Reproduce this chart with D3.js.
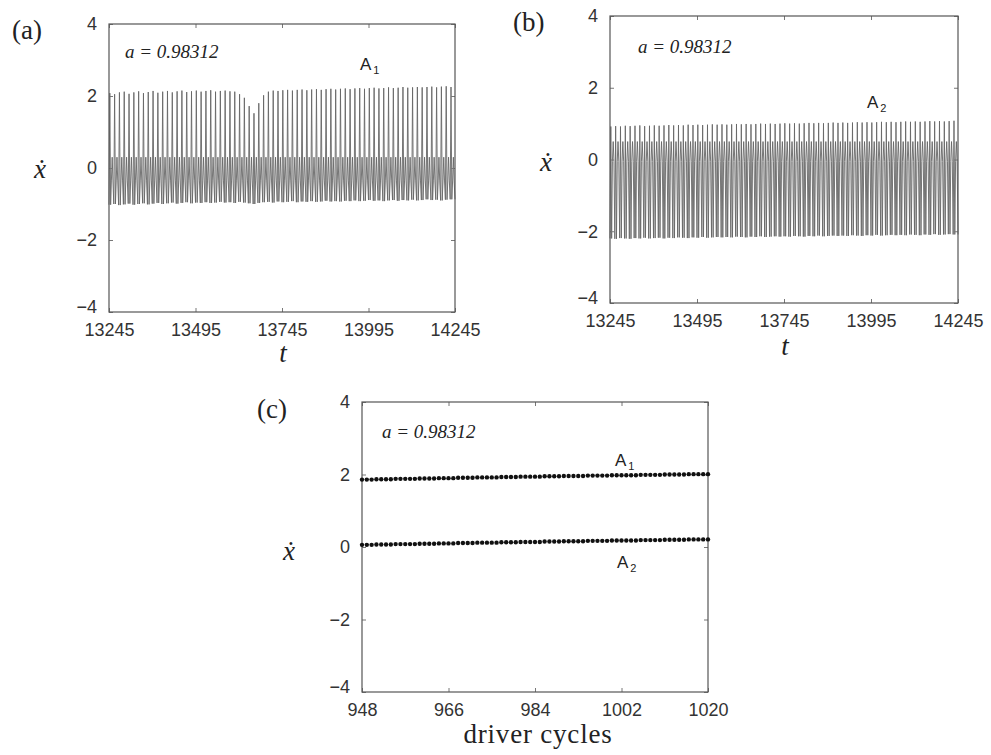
<!DOCTYPE html>
<html>
<head>
<meta charset="utf-8">
<script src="https://d3js.org/d3.v7.min.js"></script>
<style>
body { margin: 0; background: #fff; }
svg { display: block; }
.tick text { font-family: "Liberation Sans", Arial, sans-serif; font-size: 18px; fill: #333; }
.tick line { stroke: #777; }
.serif { font-family: "Liberation Serif", "DejaVu Serif", serif; fill: #222; }
.sans { font-family: "Liberation Sans", Arial, sans-serif; fill: #222; }
</style>
</head>
<body>
<svg id="chart" width="991" height="755"></svg>
<script>
//axis ticks
var yTicks = [-4, -2, 0, 2, 4];
var tTicks = [13245, 13495, 13745, 13995, 14245];
var cycleTicks = [948, 966, 984, 1002, 1020];
var paramLabel = 'a = 0.98312';

//driver cycles shown in (c), one strobe point per cycle
var cycles = d3.range(948, 1021);

//panel (a): top and bottom of each cycle of the A1 time series
var peaksA = [
  2.08,2.05,2.10,2.12,2.06,2.10,2.13,2.08,2.11,2.14,2.09,2.12,
  2.14,2.10,2.13,2.15,2.11,2.13,2.15,2.12,2.14,2.16,2.12,2.14,
  2.15,2.13,2.12,2.05,1.95,1.72,1.52,1.80,2.02,2.12,2.15,2.14,
  2.16,2.17,2.15,2.17,2.18,2.16,2.18,2.19,2.17,2.19,2.20,2.18,
  2.20,2.21,2.19,2.21,2.22,2.20,2.22,2.23,2.21,2.22,2.24,2.22,
  2.23,2.25,2.23,2.24,2.25,2.24,2.25,2.26,2.24,2.26,2.27,2.25
];
var troughsA = [
  -1.02,-1.00,-1.03,-1.01,-0.99,-1.02,-1.00,-0.98,-1.01,-0.99,-0.97,-1.00,
  -0.98,-0.96,-0.99,-0.97,-0.95,-0.98,-0.96,-0.97,-0.95,-0.97,-0.96,-0.94,
  -0.96,-0.95,-0.97,-0.94,-0.96,-0.98,-1.00,-0.97,-0.95,-0.94,-0.96,-0.93,
  -0.95,-0.94,-0.92,-0.95,-0.93,-0.94,-0.92,-0.94,-0.93,-0.91,-0.93,-0.92,
  -0.93,-0.91,-0.92,-0.90,-0.92,-0.91,-0.89,-0.91,-0.90,-0.92,-0.90,-0.89,
  -0.91,-0.89,-0.90,-0.88,-0.90,-0.89,-0.87,-0.89,-0.88,-0.90,-0.88,-0.87
];
var bandA = [-0.36, 0.30];

//panel (b): same for A2
var peaksB = [
  0.92,0.93,0.92,0.94,0.93,0.94,0.95,0.93,0.94,0.95,0.94,0.95,
  0.96,0.95,0.96,0.95,0.97,0.96,0.97,0.96,0.97,0.98,0.97,0.98,
  0.97,0.98,0.99,0.98,0.99,0.98,0.99,1.00,0.99,1.00,0.99,1.00,
  1.01,1.00,1.01,1.00,1.01,1.02,1.01,1.02,1.01,1.02,1.03,1.02,
  1.03,1.02,1.03,1.04,1.03,1.04,1.03,1.04,1.05,1.04,1.05,1.04,
  1.05,1.06,1.05,1.06,1.05,1.06,1.07,1.06,1.07,1.06,1.07,1.08
];
var troughsB = [
  -2.20,-2.21,-2.19,-2.20,-2.21,-2.19,-2.20,-2.18,-2.20,-2.19,-2.18,-2.20,
  -2.18,-2.19,-2.17,-2.18,-2.19,-2.17,-2.18,-2.16,-2.18,-2.17,-2.16,-2.17,
  -2.16,-2.17,-2.15,-2.16,-2.17,-2.15,-2.16,-2.14,-2.16,-2.15,-2.14,-2.15,
  -2.14,-2.15,-2.13,-2.14,-2.15,-2.13,-2.14,-2.12,-2.14,-2.13,-2.12,-2.13,
  -2.12,-2.13,-2.11,-2.12,-2.13,-2.11,-2.12,-2.10,-2.12,-2.11,-2.10,-2.11,
  -2.10,-2.11,-2.09,-2.10,-2.11,-2.09,-2.10,-2.08,-2.10,-2.09,-2.08,-2.09
];
var bandB = [-0.05, 0.50];

//panel (c): strobed velocity once per driver cycle
var strobeA1 = [
  1.86,1.86,1.86,1.87,1.87,1.87,1.87,1.88,1.88,1.88,1.88,1.88,1.89,1.89,1.89,1.89,
  1.90,1.90,1.90,1.90,1.91,1.91,1.91,1.91,1.92,1.92,1.92,1.92,1.92,1.93,1.93,1.93,
  1.93,1.94,1.94,1.94,1.94,1.94,1.95,1.95,1.95,1.95,1.96,1.96,1.96,1.96,1.96,1.97,
  1.97,1.97,1.97,1.97,1.98,1.98,1.98,1.98,1.98,1.98,1.99,1.99,1.99,1.99,1.99,2.00,
  2.00,2.00,2.00,2.00,2.01,2.01,2.01,2.01,2.01
];
var strobeA2 = [
  0.06,0.06,0.06,0.07,0.07,0.07,0.07,0.08,0.08,0.08,0.08,0.08,0.09,0.09,0.09,0.09,
  0.10,0.10,0.10,0.10,0.11,0.11,0.11,0.11,0.12,0.12,0.12,0.12,0.12,0.13,0.13,0.13,
  0.13,0.14,0.14,0.14,0.14,0.14,0.15,0.15,0.15,0.15,0.16,0.16,0.16,0.16,0.16,0.17,
  0.17,0.17,0.17,0.17,0.18,0.18,0.18,0.18,0.18,0.18,0.19,0.19,0.19,0.19,0.19,0.20,
  0.20,0.20,0.20,0.20,0.21,0.21,0.21,0.21,0.21
];

var svg = d3.select('#chart');

function makePanel(box, xDomain, xTicks) {
  var x = d3.scaleLinear().domain(xDomain).range([box.left, box.right]);
  var y = d3.scaleLinear().domain([-4, 4]).range([box.bottom, box.top]);
  var g = svg.append('g');

  //ticks point inwards, labels only on bottom and left
  g.append('g')
    .attr('transform', 'translate(0,' + box.bottom + ')')
    .call(d3.axisBottom(x).tickValues(xTicks).tickSizeInner(-4).tickSizeOuter(0).tickPadding(11).tickFormat(d3.format('d')));
  var left = g.append('g')
    .attr('transform', 'translate(' + box.left + ',0)')
    .call(d3.axisLeft(y).tickValues(yTicks).tickSizeInner(-4).tickSizeOuter(0).tickPadding(12));
  //the -4 label sits a little high, like the original
  left.selectAll('.tick text').filter(function (d) { return d === -4; }).attr('y', -5);
  g.append('g')
    .attr('transform', 'translate(0,' + box.top + ')')
    .call(d3.axisTop(x).tickValues(xTicks).tickSizeInner(-4).tickSizeOuter(0).tickFormat(''));
  g.append('g')
    .attr('transform', 'translate(' + box.right + ',0)')
    .call(d3.axisRight(y).tickValues(yTicks).tickSizeInner(-4).tickSizeOuter(0).tickFormat(''));
  g.selectAll('.domain').remove();

  g.append('rect')
    .attr('x', box.left).attr('y', box.top)
    .attr('width', box.right - box.left).attr('height', box.bottom - box.top)
    .attr('fill', 'none').attr('stroke', '#555').attr('stroke-width', 1.2);

  return {x: x, y: y, g: g};
}

//one spike per driver cycle, with a small wiggle near zero
function cyclePoints(peaks, troughs, band) {
  var period = (tTicks[tTicks.length - 1] - tTicks[0]) / peaks.length;
  var pts = [];
  peaks.forEach(function (p, i) {
    var t0 = tTicks[0] + i * period;
    pts.push([t0, troughs[i]]);
    pts.push([t0 + 0.17 * period, p]);
    pts.push([t0 + 0.34 * period, troughs[i]]);
    pts.push([t0 + 0.50 * period, band[0]]);
    pts.push([t0 + 0.66 * period, band[1]]);
    pts.push([t0 + 0.82 * period, band[0]]);
  });
  pts.push([tTicks[tTicks.length - 1], troughs[troughs.length - 1]]);
  return pts;
}

function drawSeries(panel, pts) {
  var line = d3.line()
    .x(function (d) { return panel.x(d[0]); })
    .y(function (d) { return panel.y(d[1]); });
  panel.g.insert('path', ':first-child')
    .datum(pts)
    .attr('d', line)
    .attr('fill', 'none')
    .attr('stroke', '#666')
    .attr('stroke-width', 0.9);
}

function addText(x, y, txt, cls, size, italic, anchor) {
  return svg.append('text')
    .attr('x', x).attr('y', y)
    .attr('class', cls)
    .attr('font-size', size)
    .attr('font-style', italic ? 'italic' : 'normal')
    .attr('text-anchor', anchor || 'start')
    .text(txt);
}

function addAttractorLabel(x, y, sub) {
  var t = addText(x, y, 'A', 'sans', 17, false);
  t.append('tspan').attr('dx', 2).attr('dy', 4).attr('font-size', 11).text(sub);
}

//panel (a)
var pa = makePanel({left: 109, right: 455, top: 24, bottom: 312}, [tTicks[0], tTicks[4]], tTicks);
drawSeries(pa, cyclePoints(peaksA, troughsA, bandA));
addText(12, 39, '(a)', 'serif', 27, false);
addText(34, 178, 'ẋ', 'serif', 27, true);
addText(283, 362, 't', 'serif', 27, true, 'middle');
addText(125, 58, paramLabel, 'serif', 19, true);
addAttractorLabel(360, 70, '1');

//panel (b)
var pb = makePanel({left: 610, right: 958, top: 16, bottom: 303}, [tTicks[0], tTicks[4]], tTicks);
drawSeries(pb, cyclePoints(peaksB, troughsB, bandB));
addText(513, 31, '(b)', 'serif', 27, false);
addText(540, 171, 'ẋ', 'serif', 27, true);
addText(785, 355, 't', 'serif', 27, true, 'middle');
addText(638, 53, paramLabel, 'serif', 19, true);
addAttractorLabel(867, 108, '2');

//panel (c)
var pc = makePanel({left: 362, right: 708, top: 402, bottom: 692}, [cycleTicks[0], cycleTicks[4]], cycleTicks);
[strobeA1, strobeA2].forEach(function (vals) {
  pc.g.selectAll(null)
    .data(vals)
    .enter().append('circle')
    .attr('cx', function (d, i) { return pc.x(cycles[i]); })
    .attr('cy', function (d) { return pc.y(d); })
    .attr('r', 2.2)
    .attr('fill', '#111');
});
addText(257, 418, '(c)', 'serif', 27, false);
addText(283, 560, 'ẋ', 'serif', 27, true);
addText(538, 743, 'driver cycles', 'serif', 27, false, 'middle').attr('letter-spacing', 0.8);
addText(382, 438, paramLabel, 'serif', 19, true);
addAttractorLabel(615, 466, '1');
addAttractorLabel(617, 568, '2');
</script>
</body>
</html>
